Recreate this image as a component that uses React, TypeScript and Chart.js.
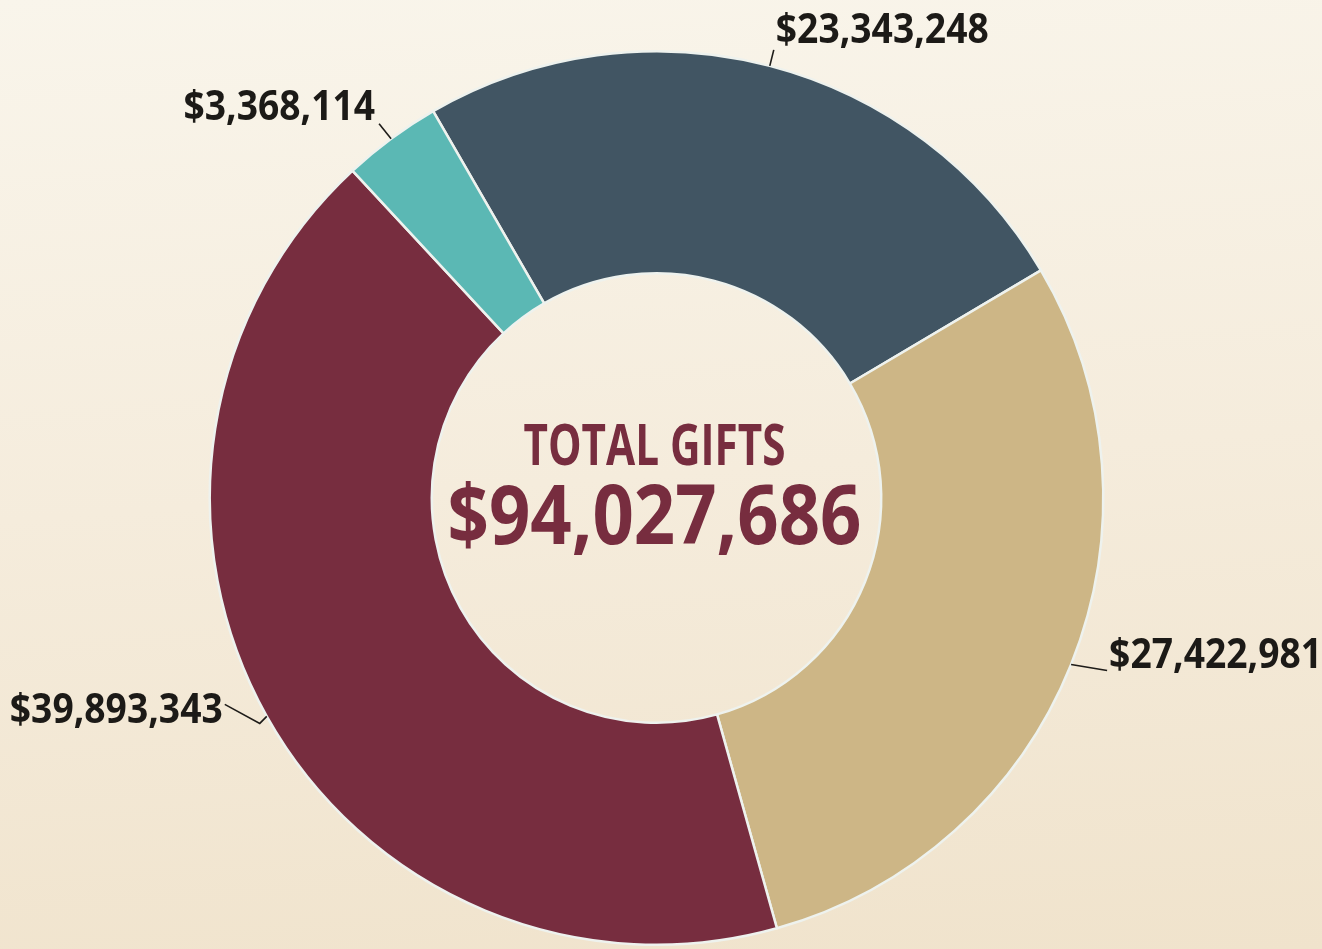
import React, { useEffect, useRef } from "react";
import { Chart, registerables } from "chart.js";

Chart.register(...registerables);

const categories = ["Slate", "Tan", "Maroon", "Teal"];
const giftValues = [23343248, 27422981, 39893343, 3368114];
const sliceColors = ["#415563", "#cdb686", "#772d3f", "#5bb8b4"];
const valueLabels = ["$23,343,248", "$27,422,981", "$39,893,343", "$3,368,114"];
const centerTitle = "TOTAL GIFTS";
const centerValue = "$94,027,686";

// leader line offsets relative to arc mid-point on outer edge, and text anchor
const labelLayout = [
  { pts: [[4, -16]], tx: 6, ty: -23, align: "left" },
  { pts: [[36, 6]], tx: 38, ty: 4, align: "left" },
  { pts: [[-7, 7], [-42, -12]], tx: -44, ty: 7, align: "right" },
  { pts: [[-12, -15]], tx: -16, ty: -19, align: "right" },
];

const FONT = '"Open Sans", "Noto Sans", "DejaVu Sans Condensed", sans-serif';

function drawScaled(
  ctx: CanvasRenderingContext2D,
  text: string,
  x: number,
  y: number,
  size: number,
  sx: number,
  align: "left" | "right" | "center"
) {
  ctx.save();
  ctx.font = `bold ${size}px ${FONT}`;
  const w = ctx.measureText(text).width * sx;
  let left = x;
  if (align === "right") left = x - w;
  if (align === "center") left = x - w / 2;
  ctx.translate(left, y);
  ctx.scale(sx, 1);
  ctx.textAlign = "left";
  ctx.textBaseline = "alphabetic";
  ctx.fillText(text, 0, 0);
  ctx.restore();
}

const LABEL_SIZE = 42;

const labelPlugin = {
  id: "donutLabels",
  afterDraw(chart: any) {
    const ctx: CanvasRenderingContext2D = chart.ctx;
    const meta = chart.getDatasetMeta(0);
    ctx.save();
    ctx.font = `bold ${LABEL_SIZE}px ${FONT}`;
    const refW = ctx.measureText("$23,343,248").width;
    ctx.restore();
    const sx = 213 / refW;

    meta.data.forEach((arc: any, i: number) => {
      const { x, y, startAngle, endAngle, outerRadius } = arc.getProps(
        ["x", "y", "startAngle", "endAngle", "outerRadius"],
        true
      );
      const mid = (startAngle + endAngle) / 2;
      const px = x + Math.cos(mid) * outerRadius;
      const py = y + Math.sin(mid) * outerRadius;
      const lay = labelLayout[i];
      ctx.save();
      ctx.strokeStyle = "#1e1c19";
      ctx.lineWidth = 1.6;
      ctx.beginPath();
      ctx.moveTo(px, py);
      lay.pts.forEach((p) => ctx.lineTo(px + p[0], py + p[1]));
      ctx.stroke();
      ctx.restore();
      ctx.fillStyle = "#1c1a17";
      drawScaled(ctx, valueLabels[i], px + lay.tx, py + lay.ty, LABEL_SIZE, sx, lay.align as any);
    });

    const first = meta.data[0];
    if (first) {
      const cx = first.x - 2;
      const cy = first.y;
      ctx.fillStyle = "#772d3f";
      ctx.save();
      ctx.font = `bold 57px ${FONT}`;
      const tW = ctx.measureText(centerTitle).width;
      ctx.font = `bold 82px ${FONT}`;
      const vW = ctx.measureText(centerValue).width;
      ctx.restore();
      drawScaled(ctx, centerTitle, cx, cy - 33, 57, 262 / tW, "center");
      drawScaled(ctx, centerValue, cx, cy + 46, 82, 414 / vW, "center");
    }
  },
};

export default function App() {
  const ref = useRef<HTMLCanvasElement | null>(null);
  useEffect(() => {
    document.body.style.margin = "0";
    if (!ref.current) return;
    const chart = new Chart(ref.current, {
      type: "doughnut",
      data: {
        labels: categories,
        datasets: [
          {
            data: giftValues,
            backgroundColor: sliceColors,
            borderColor: "#eef2ee",
            borderWidth: 2.5,
          },
        ],
      },
      options: {
        responsive: false,
        animation: false,
        cutout: "50.3%",
        rotation: -30,
        layout: { padding: { top: 50, bottom: 3, left: 0, right: 9 } },
        plugins: {
          legend: { display: false },
          tooltip: { enabled: false },
        },
      },
      plugins: [labelPlugin],
    });
    return () => chart.destroy();
  }, []);
  return (
    <div
      style={{
        width: 1322,
        height: 949,
        background: "linear-gradient(176deg, #f9f5eb 0%, #f5ecdc 50%, #f0e3cc 100%)",
      }}
    >
      <canvas ref={ref} width={1322} height={949} style={{ display: "block" }} />
    </div>
  );
}
